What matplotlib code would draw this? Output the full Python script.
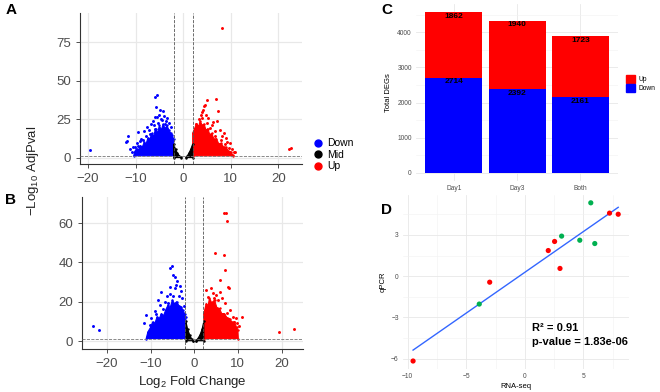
import numpy as np
import matplotlib
matplotlib.use("Agg")
import matplotlib.pyplot as plt
from matplotlib.lines import Line2D
from matplotlib.patches import Patch

plt.rcParams['font.family'] = ['Liberation Sans', 'DejaVu Sans']
plt.rcParams['mathtext.fontset'] = 'custom'
plt.rcParams['mathtext.rm'] = 'Liberation Sans'
plt.rcParams['mathtext.it'] = 'Liberation Sans'

# %% Volcano data (dense cores as outlines, sparse genes as points)
# panel A
a_blue_core = [(-10.4, 1.3), (-10.2, 4), (-9.8, 6), (-9.4, 5), (-9.0, 8), (-8.6, 7), (-8.2, 10),
               (-7.8, 9), (-7.4, 13), (-7.0, 12), (-6.6, 16), (-6.2, 14), (-5.8, 19), (-5.4, 16),
               (-5.0, 21), (-4.6, 18), (-4.2, 22), (-3.8, 19), (-3.4, 21), (-3.0, 18), (-2.6, 16),
               (-2.3, 15), (-2.0, 12), (-2.0, 1.3)]
a_red_core = [(2.0, 1.3), (2.0, 16), (2.4, 19), (2.8, 22), (3.2, 20), (3.6, 24), (4.0, 21),
              (4.4, 22), (4.8, 18), (5.2, 19), (5.6, 15), (6.0, 16), (6.5, 12), (7.0, 12.5),
              (7.5, 9), (8.0, 9.5), (8.5, 7), (9.0, 7), (9.5, 4.5), (10.0, 4), (10.4, 2), (10.5, 1.3)]
a_mid_left = [(-2.0, 0.2), (-2.0, 9), (-1.6, 5.5), (-1.2, 3), (-0.8, 1.4), (-0.5, 0.4), (-0.5, 0.2)]
a_mid_right = [(2.0, 0.2), (2.0, 9), (1.6, 5.5), (1.2, 3), (0.9, 1.4), (0.6, 0.4), (0.6, 0.2)]

a_blue_x = [-19.6, -5.4, -6.0, -5.7, -4.8, -4.3, -5.4, -5.9, -3.6, -7.6, -8.2, -9.4, -11.5, -12.0,
            -11.8, -11.2, -10.5, -10.1, -6.8, -6.4, -5.0, -4.6, -3.3, -3.0, -2.6, -6.2, -7.2,
            -8.8, -9.8, -9.0, -7.9, -5.3, -4.0, -3.9, -10.8, -9.6, -8.5, -7.0, -6.0, -4.4]
a_blue_y = [4.8, 41.1, 39.4, 33.3, 31.2, 30.1, 26.6, 26.4, 24.2, 20.3, 17.7, 17.1, 13.9, 10.4,
            11.2, 5.8, 7.0, 7.3, 22.0, 24.0, 27.5, 25.0, 26.0, 22.5, 20.0, 21.5, 18.0,
            12.5, 9.5, 11.0, 14.0, 22.5, 27.0, 22.0, 4.0, 8.0, 11.5, 15.5, 19.0, 24.5]
a_red_x = [8.1, 22.3, 22.7, 5.0, 6.9, 4.4, 4.6, 7.4, 3.7, 5.3, 7.1, 8.6, 9.05, 9.75, 10.7, 10.9,
           9.9, 6.25, 5.7, 4.2, 3.3, 4.0, 2.6, 6.0, 7.7, 8.2, 9.3, 8.8, 10.2, 6.6, 4.8, 3.1,
           5.1, 6.8, 7.9, 9.6, 3.9]
a_red_y = [84.4, 6.0, 6.4, 37.7, 38.1, 33.8, 34.5, 30.1, 27.9, 25.8, 24.2, 16.0, 12.8, 9.9, 3.9, 3.6,
           2.6, 23.0, 19.3, 31.0, 25.0, 29.5, 22.0, 21.0, 18.0, 14.5, 10.5, 8.8, 6.0, 17.5, 28.0, 20.5,
           22.5, 14.0, 11.5, 6.5, 26.0]

# panel B
b_blue_core = [(-11.0, 1.3), (-10.6, 4.7), (-10.0, 7), (-9.5, 9.8), (-9.0, 9), (-8.5, 12.4),
               (-8.0, 11.5), (-7.5, 14), (-7.0, 13), (-6.5, 16), (-6.0, 18.3), (-5.5, 17),
               (-5.0, 20.9), (-4.5, 19), (-4.0, 20.1), (-3.5, 18), (-3.0, 17.5), (-2.6, 15.8),
               (-2.2, 14), (-1.9, 12.4), (-1.9, 1.3)]
b_red_core = [(2.2, 1.3), (2.2, 14), (2.75, 19.1), (3.2, 18), (3.5, 22), (4.0, 19.5), (4.65, 20.9),
              (5.2, 17), (5.8, 16.6), (6.3, 14), (6.9, 14), (7.5, 12), (8.1, 11.5), (8.7, 9.5),
              (9.2, 9.8), (9.7, 7), (10.0, 5.6), (10.1, 1.3)]
b_mid_left = [(-1.9, 0.2), (-1.9, 10), (-1.5, 6), (-1.0, 3), (-0.6, 1.2), (-0.3, 0.3), (-0.3, 0.2)]
b_mid_right = [(2.2, 0.2), (2.2, 10), (1.8, 6), (1.3, 3), (0.8, 1.2), (0.4, 0.3), (0.4, 0.2)]

b_blue_x = [-23.2, -21.8, -5.1, -5.65, -4.9, -4.5, -3.96, -5.65, -4.5, -7.55, -6.25, -8.3, -11.0,
            -11.4, -10.6, -3.0, -3.5, -6.8, -7.8, -9.0, -9.8, -5.5, -4.2, -2.8, -3.2, -6.0, -10.2,
            -8.8, -7.1, -4.8, -2.4]
b_blue_y = [7.6, 5.9, 38.2, 37.3, 33.6, 32.4, 30.7, 27.6, 26.8, 25.1, 22.9, 20.9, 13.2,
            9.0, 3.9, 25.5, 23.0, 20.0, 18.5, 15.5, 12.0, 24.0, 28.5, 22.0, 28.0, 19.5, 8.0,
            14.0, 16.5, 23.0, 18.0]
b_red_x = [19.5, 22.9, 6.8, 7.3, 7.55, 4.65, 6.8, 7.1, 5.95, 7.85, 8.0, 10.9, 9.2, 9.8, 2.75, 4.3,
           5.0, 6.3, 3.8, 5.5, 7.0, 8.3, 9.5, 3.2, 6.0, 7.5, 10.3, 4.5, 8.8, 2.6]
b_red_y = [4.4, 6.4, 65.3, 65.3, 61.0, 44.9, 43.8, 36.1, 31.0, 27.3, 26.8, 12.4, 9.8, 9.3, 26.0, 24.3,
           23.5, 22.0, 27.0, 21.0, 19.5, 16.0, 12.0, 22.5, 25.0, 14.5, 7.5, 22.0, 12.5, 17.0]

# %% Bar data
days = ['Day1', 'Day3', 'Both']
down = [2714, 2392, 2161]
up = [1862, 1940, 1723]

# %% qPCR vs RNA-seq
rna_seq = [5.63, 7.23, 7.97, 3.14, 2.54, 4.69, 5.97, 2.0, 3.0, -3.0, -3.89, -9.54]
qpcr = [5.33, 4.58, 4.50, 2.91, 2.52, 2.61, 2.37, 1.86, 0.56, -0.44, -2.03, -6.17]
pt_group = ['g', 'r', 'r', 'g', 'r', 'g', 'g', 'r', 'r', 'r', 'g', 'r']
r2_text = 'R\u00b2 = 0.91'
p_text = 'p-value = 1.83e-06'

BLUE = '#0000FF'
RED = '#FF0000'
GRID = '#E8E8E8'
TXT = '#4D4D4D'

fig = plt.figure(figsize=(6.6, 3.92), dpi=100)


def volcano(ax, blue_core, red_core, mids, bx, by, rx, ry):
    for poly, col in [(blue_core, BLUE), (red_core, RED)] + [(m, 'black') for m in mids]:
        xs, ys = zip(*poly)
        ax.fill(xs, ys, color=col, lw=0.8, zorder=3)
        ax.scatter(xs, ys, s=3, color=col, lw=0, zorder=3)
    ax.scatter(bx, by, s=4.5, color=BLUE, lw=0, zorder=4)
    ax.scatter(rx, ry, s=4.5, color=RED, lw=0, zorder=4)
    ax.axvline(-2, color='#555555', ls='--', lw=0.6, zorder=5)
    ax.axvline(2, color='#555555', ls='--', lw=0.6, zorder=5)
    ax.axhline(1.3, color='#777777', ls='--', lw=0.6, zorder=5)
    ax.grid(color=GRID, lw=0.9)
    ax.set_axisbelow(True)
    for s in ['top', 'right']:
        ax.spines[s].set_visible(False)
    for s in ['left', 'bottom']:
        ax.spines[s].set_color('#333333')
        ax.spines[s].set_linewidth(0.8)
    ax.tick_params(colors='#333333', labelcolor=TXT, labelsize=9.5, length=3, width=0.6)
    ax.set_xticks([-20, -10, 0, 10, 20])


axA = fig.add_axes([0.1212, 0.5816, 0.3364, 0.3852])
volcano(axA, a_blue_core, a_red_core, [a_mid_left, a_mid_right], a_blue_x, a_blue_y, a_red_x, a_red_y)
axA.set_xlim(-21.7, 25)
axA.set_ylim(-4, 94)
axA.set_yticks([0, 25, 50, 75])

axB = fig.add_axes([0.1242, 0.1097, 0.3348, 0.3877])
volcano(axB, b_blue_core, b_red_core, [b_mid_left, b_mid_right], b_blue_x, b_blue_y, b_red_x, b_red_y)
axB.set_xlim(-25.7, 24.9)
axB.set_ylim(-4, 73.3)
axB.set_yticks([0, 20, 40, 60])
axB.set_xlabel(r'Log$_2$ Fold Change', fontsize=9.5, color='#222222', labelpad=3)

fig.text(0.05, 0.565, r'$-$Log$_{10}$ AdjPval', rotation=90, ha='center', va='center',
         fontsize=9.5, color='#222222')

handles = [Line2D([], [], marker='o', ls='', color=c, markersize=5) for c in [BLUE, 'black', RED]]
fig.legend(handles, ['Down', 'Mid', 'Up'], loc='center left', bbox_to_anchor=(0.458, 0.605),
           frameon=False, fontsize=7.5, handletextpad=0.3, labelspacing=0.15, handlelength=1.2)

# %% Panel C
axC = fig.add_axes([0.6303, 0.5383, 0.3067, 0.4515])
xpos = np.arange(1, len(days) + 1)
axC.bar(xpos, down, width=0.9, color=BLUE, zorder=3)
axC.bar(xpos, up, bottom=down, width=0.9, color=RED, zorder=3)
for i in range(len(days)):
    axC.annotate(str(down[i]), (xpos[i], down[i]), xytext=(0, -3), textcoords='offset points',
                 ha='center', va='center', fontsize=6, fontweight='bold', zorder=4)
    axC.annotate(str(up[i]), (xpos[i], down[i] + up[i]), xytext=(0, -3), textcoords='offset points',
                 ha='center', va='center', fontsize=6, fontweight='bold', zorder=4)
axC.set_xlim(0.4, 3.6)
tot = max(d + u for d, u in zip(down, up))
axC.set_ylim(-0.05 * tot, 1.05 * tot)
axC.set_xticks(xpos)
axC.set_xticklabels(days)
axC.set_yticks([0, 1000, 2000, 3000, 4000])
axC.set_yticks([500, 1500, 2500, 3500, 4500], minor=True)
axC.grid(which='major', color=GRID, lw=0.6)
axC.grid(which='minor', axis='y', color='#F2F2F2', lw=0.4)
axC.set_axisbelow(True)
for s in axC.spines.values():
    s.set_visible(False)
axC.tick_params(which='both', length=0, labelsize=4.8, labelcolor=TXT, pad=3)
axC.set_ylabel('Total DEGs', fontsize=5.5, labelpad=4)
axC.legend([Patch(color=RED), Patch(color=BLUE)], ['Up', 'Down'], loc='center left',
           bbox_to_anchor=(1.01, 0.55), frameon=False, fontsize=4.8, handlelength=1.3,
           handleheight=1.4, handletextpad=0.5, labelspacing=0.1)

# %% Panel D
axD = fig.add_axes([0.6106, 0.0587, 0.3417, 0.4439])
cols = ['#00B050' if g == 'g' else RED for g in pt_group]
axD.scatter(rna_seq, qpcr, s=14, c=cols, lw=0, zorder=4)
k, b = np.polyfit(rna_seq, qpcr, 1)
xl = np.array([min(rna_seq), max(rna_seq)])
axD.plot(xl, k * xl + b, color='#3366FF', lw=1.0, zorder=3)
axD.text(0.57, -3.78, r2_text, fontsize=8, fontweight='bold', va='center')
axD.text(0.57, -4.79, p_text, fontsize=8, fontweight='bold', va='center')
axD.set_xlim(-10.4, 8.85)
axD.set_ylim(-6.75, 5.9)
axD.set_xticks([-10, -5, 0, 5])
axD.set_xticks([-7.5, -2.5, 2.5, 7.5], minor=True)
axD.set_yticks([-6, -3, 0, 3])
axD.set_yticks([-4.5, -1.5, 1.5, 4.5], minor=True)
axD.grid(which='major', color=GRID, lw=0.6)
axD.grid(which='minor', color='#F2F2F2', lw=0.4)
axD.set_axisbelow(True)
for s in axD.spines.values():
    s.set_visible(False)
axD.tick_params(which='both', length=0, labelsize=4.8, labelcolor=TXT, pad=3)
axD.set_xlabel('RNA-seq', fontsize=5.5, labelpad=2)
axD.set_ylabel('qPCR', fontsize=5.5, labelpad=3)

# panel letters
for lab, x, y in [('A', 0.008, 0.975), ('B', 0.008, 0.49), ('C', 0.578, 0.975), ('D', 0.578, 0.465)]:
    fig.text(x, y, lab, fontsize=11, fontweight='bold', va='center')

fig.savefig('out.png', dpi=100)
